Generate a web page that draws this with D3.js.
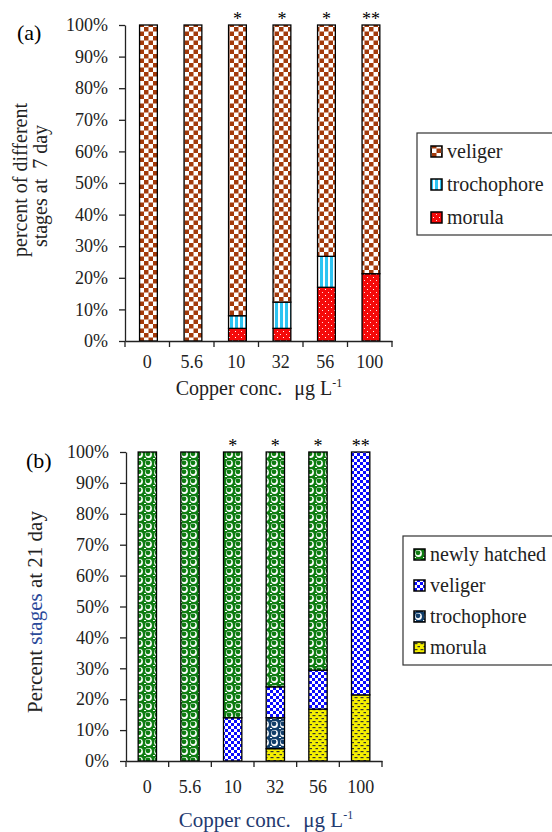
<!DOCTYPE html>
<html>
<head>
<meta charset="utf-8">
<script src="https://cdn.jsdelivr.net/npm/d3@7"></script>
<style>
  body { margin: 0; background: #fff; }
</style>
</head>
<body>
<svg id="chart" width="552" height="832"></svg>
<script>
// data
const concs = ["0", "5.6", "10", "32", "56", "100"];
const signif = ["", "", "*", "*", "*", "**"];

// panel (a) - 7 day
const day7Stages   = ["morula", "trochophore", "veliger"];
const day7Morula   = [0, 0, 4, 4, 17, 21.3];
const day7Troch    = [0, 0, 4, 8.3, 9.8, 0];
const day7Veliger  = [100, 100, 92, 87.7, 73.2, 78.7];

// panel (b) - 21 day
const day21Stages  = ["morula", "trochophore", "veliger", "newly hatched"];
const day21Morula  = [0, 0, 0, 4, 16.8, 21.4];
const day21Troch   = [0, 0, 0, 10, 0, 0];
const day21Veliger = [0, 0, 14, 10, 12.6, 78.6];
const day21Newly   = [100, 100, 86, 76, 70.6, 0];

const yTicks = d3.range(0, 1.001, 0.1);
const font = "'Liberation Serif', 'Times New Roman', serif";

const svg = d3.select("#chart");
const defs = svg.append("defs");

// fill patterns
function checker(id, w, bg, fg) {
  const p = defs.append("pattern").attr("id", id)
    .attr("patternUnits", "userSpaceOnUse").attr("width", w * 2).attr("height", w * 2);
  p.append("rect").attr("width", w * 2).attr("height", w * 2).attr("fill", bg);
  p.append("rect").attr("width", w).attr("height", w).attr("fill", fg);
  p.append("rect").attr("x", w).attr("y", w).attr("width", w).attr("height", w).attr("fill", fg);
}
checker("velA", 4.5, "#fff", "#a33a0b");
checker("velB", 3, "#fff", "#0a0aff");

let p = defs.append("pattern").attr("id", "trochA")
  .attr("patternUnits", "userSpaceOnUse").attr("width", 5).attr("height", 5);
p.append("rect").attr("width", 5).attr("height", 5).attr("fill", "#fff");
p.append("rect").attr("width", 3).attr("height", 5).attr("fill", "#2ec4f2");

p = defs.append("pattern").attr("id", "morA")
  .attr("patternUnits", "userSpaceOnUse").attr("width", 6).attr("height", 6);
p.append("rect").attr("width", 6).attr("height", 6).attr("fill", "#f50a0a");
p.append("rect").attr("x", 1).attr("y", 1).attr("width", 1).attr("height", 1).attr("fill", "#fff");
p.append("rect").attr("x", 4).attr("y", 4).attr("width", 1).attr("height", 1).attr("fill", "#fdd");

function bubbles(id, bg) {
  const q = defs.append("pattern").attr("id", id)
    .attr("patternUnits", "userSpaceOnUse").attr("width", 9).attr("height", 9);
  q.append("rect").attr("width", 9).attr("height", 9).attr("fill", bg);
  q.append("circle").attr("cx", 4.5).attr("cy", 4.5).attr("r", 3.4).attr("fill", "#fff");
  q.append("circle").attr("cx", 4).attr("cy", 3.8).attr("r", 2.4).attr("fill", bg);
  q.append("rect").attr("x", 0).attr("y", 8).attr("width", 2).attr("height", 1).attr("fill", "#fff");
}
bubbles("newB", "#0f7d12");
bubbles("trochB", "#123f6b");

p = defs.append("pattern").attr("id", "morB")
  .attr("patternUnits", "userSpaceOnUse").attr("width", 6).attr("height", 6);
p.append("rect").attr("width", 6).attr("height", 6).attr("fill", "#f5f000");
p.append("rect").attr("x", 0.5).attr("y", 1).attr("width", 3).attr("height", 1.2).attr("fill", "#333");
p.append("rect").attr("x", 3.5).attr("y", 4).attr("width", 3).attr("height", 1.2).attr("fill", "#333");

function drawPanel(cfg) {
  const { left, right, top, bottom } = cfg;
  const x = d3.scaleBand().domain(concs).range([left, right]);
  const y = d3.scaleLinear().domain([0, 1]).range([bottom, top]);
  const bw = x.bandwidth() * cfg.barFrac;

  const table = concs.map((c, i) => {
    const row = { conc: c };
    cfg.stages.forEach((s, k) => { row[s] = cfg.series[k][i] / 100; });
    return row;
  });
  const stacked = d3.stack().keys(cfg.stages)(table);

  const g = svg.append("g");
  stacked.forEach((layer, k) => {
    g.selectAll(null)
      .data(layer.filter(d => d[1] - d[0] > 0))
      .join("rect")
        .attr("x", d => x(d.data.conc) + (x.bandwidth() - bw) / 2 + cfg.shift)
        .attr("y", d => y(d[1]))
        .attr("width", bw)
        .attr("height", d => y(d[0]) - y(d[1]))
        .attr("fill", `url(#${cfg.fills[k]})`)
        .attr("stroke", "#000")
        .attr("stroke-width", 1.3);
  });

  // significance marks
  g.selectAll(null)
    .data(concs)
    .join("text")
      .attr("x", d => x(d) + x.bandwidth() / 2 + cfg.shift)
      .attr("y", top + cfg.starDy)
      .attr("text-anchor", "middle")
      .style("font-family", font)
      .style("font-size", "18px")
      .text((d, i) => signif[i]);

  // y axis
  const ya = svg.append("g")
    .attr("transform", `translate(${left},0)`)
    .call(d3.axisLeft(y).tickValues(yTicks).tickFormat(d3.format(".0%"))
      .tickSize(6).tickSizeOuter(0).tickPadding(11));
  ya.selectAll("text").style("font-family", font).style("font-size", "18px").attr("fill", "#222");
  ya.selectAll("line, path").attr("stroke", "#222").attr("stroke-width", 1.3);

  // x axis
  const xa = svg.append("g")
    .attr("transform", `translate(0,${bottom})`)
    .call(d3.axisBottom(x).tickSize(0).tickPadding(cfg.xPad));
  xa.selectAll("text").style("font-family", font).style("font-size", "18px").attr("fill", "#222");
  xa.select("path").attr("stroke", "#222").attr("stroke-width", 1.3);
  const edges = concs.map(c => x(c)).concat([right]);
  xa.selectAll(".edge")
    .data(edges)
    .join("line")
      .attr("x1", d => d).attr("x2", d => d)
      .attr("y1", 0).attr("y2", 6)
      .attr("stroke", "#222").attr("stroke-width", 1.3);

  // panel label
  svg.append("text")
    .attr("x", cfg.tagX).attr("y", cfg.tagY)
    .style("font-family", font)
    .style("font-size", "22px")
    .text(cfg.tag);

  // x title
  const xt = svg.append("text")
    .attr("x", cfg.xTitleX).attr("y", cfg.xTitleY)
    .attr("text-anchor", "middle")
    .attr("fill", cfg.xTitleColor)
    .style("font-family", font)
    .style("font-size", cfg.xTitleSize + "px");
  xt.append("tspan").text("Copper conc.");
  xt.append("tspan").attr("dx", cfg.xTitleSize * 0.6).text("μg L");
  xt.append("tspan").attr("dy", -8).style("font-size", "12px").text("-1");

  // legend
  const lg = svg.append("g");
  lg.append("rect")
    .attr("x", cfg.legX).attr("y", cfg.legY)
    .attr("width", 200).attr("height", cfg.legH)
    .attr("fill", "#fff").attr("stroke", "#333").attr("stroke-width", 1.2);
  const order = cfg.stages.slice().reverse();
  const fillsRev = cfg.fills.slice().reverse();
  order.forEach((s, i) => {
    const cy = cfg.legY + cfg.legFirst + i * cfg.legStep;
    lg.append("rect")
      .attr("x", cfg.swX).attr("y", cy - 6)
      .attr("width", 11).attr("height", 11)
      .attr("fill", `url(#${fillsRev[i]})`)
      .attr("stroke", "#000").attr("stroke-width", 1.5);
    lg.append("text")
      .attr("x", cfg.swX + 16).attr("y", cy + 6)
      .style("font-family", font)
      .style("font-size", "20px")
      .attr("fill", "#222")
      .text(s);
  });
}

drawPanel({
  left: 125, right: 392, top: 25, bottom: 341, barFrac: 0.4, shift: 1.2,
  stages: day7Stages, series: [day7Morula, day7Troch, day7Veliger],
  fills: ["morA", "trochA", "velA"],
  starDy: 0, xPad: 14,
  tag: "(a)", tagX: 17, tagY: 40,
  xTitleX: 259, xTitleY: 395, xTitleColor: "#222", xTitleSize: 20,
  legX: 417, legY: 133, legH: 102, legFirst: 19, legStep: 33, swX: 431
});

drawPanel({
  left: 126, right: 382, top: 452, bottom: 761, barFrac: 0.43, shift: 0,
  stages: day21Stages, series: [day21Morula, day21Troch, day21Veliger, day21Newly],
  fills: ["morB", "trochB", "velB", "newB"],
  starDy: 0, xPad: 19,
  tag: "(b)", tagX: 26, tagY: 468,
  xTitleX: 266, xTitleY: 827, xTitleColor: "#1f3a70", xTitleSize: 21,
  legX: 403, legY: 536, legH: 129, legFirst: 19, legStep: 31, swX: 414
});

// y titles
svg.append("text")
  .attr("transform", "translate(27,180) rotate(-90)")
  .attr("text-anchor", "middle")
  .style("font-family", font)
  .style("font-size", "20px")
  .attr("fill", "#222")
  .text("percent of different");
const ya2 = svg.append("text")
  .attr("transform", "translate(47,186) rotate(-90)")
  .attr("text-anchor", "middle")
  .style("font-family", font)
  .style("font-size", "20px")
  .attr("fill", "#222");
ya2.append("tspan").text("stages at");
ya2.append("tspan").attr("dx", 10).text("7 day");

const yb = svg.append("text")
  .attr("transform", "translate(42,612) rotate(-90)")
  .attr("text-anchor", "middle")
  .style("font-family", font)
  .style("font-size", "21px")
  .attr("fill", "#222");
yb.append("tspan").text("Percent ");
yb.append("tspan").attr("fill", "#2a4a9a").text("stages");
yb.append("tspan").text(" at 21 day");
</script>
</body>
</html>
